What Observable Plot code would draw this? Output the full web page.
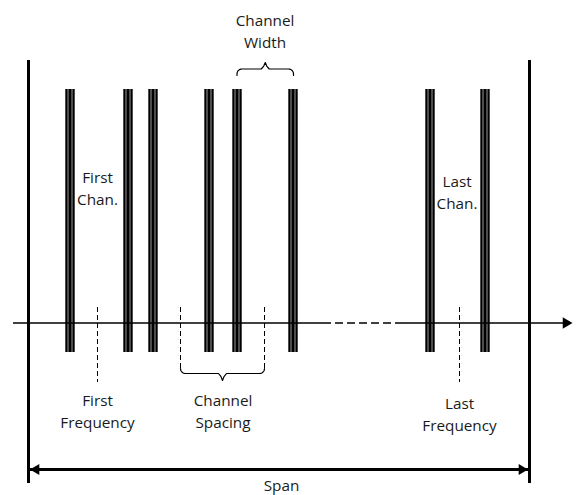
<!DOCTYPE html>
<html>
<head>
<meta charset="utf-8">
<script src="https://cdn.jsdelivr.net/npm/d3@7"></script>
<script src="https://cdn.jsdelivr.net/npm/@observablehq/plot@0.6"></script>
<style>
  html, body { margin: 0; padding: 0; background: #fff; }
  svg { display: block; }
</style>
</head>
<body>
<div id="chart"></div>
<script>
// ---- data (diagram units: frequency axis left→right, vertical top→bottom) ----
const channels = [69.5, 127.5, 152.5, 208.5, 236.5, 292.5, 429.5, 484.5];
const spanEdges = [28, 529];
const frequencyMarks = [97, 459];          // First / Last Frequency
const spacingMarks = [180, 264];           // Channel Spacing bracket ends
const widthMarks = [236.5, 293];           // Channel Width bracket ends
const axisSolid = [{x1: 13, x2: 323}, {x1: 402, x2: 563}];
const axisDashed = [{x1: 323, x2: 402}];
const labels = ["Channel\nWidth", "First\nChan.", "Last\nChan.", "First\nFrequency", "Channel\nSpacing", "Last\nFrequency", "Span"];
const labelX = [264.5, 97, 456.5, 97, 222.5, 459, 281];
const labelBaseline = [26.5, 183.5, 187.5, 406.5, 406.5, 409.5, 492];

// ---- layout ----
const W = 579, H = 495;
const L = {
  spanTop: 60, spanBottom: 483, barTop: 89, barBottom: 352,
  axisY: 322.5, dashTop: 307, dashBottom: 382, spacingBottom: 368,
  spacingBraceY: 373, spacingApexY: 380,
  widthEndY: 75, widthBraceY: 68.5, widthApexY: 62,
  spanArrowY: 469, fontSize: 15.3, lineHeight: 1.45, textShift: -6
};

function brace(id, x1, x2, yEnd, yH, yA, r = 5) {
  const pts = [];
  const s = Math.sign(yEnd - yH);
  const xm = (x1 + x2) / 2;
  pts.push({id, x: x1, y: yEnd});
  for (let i = 0; i <= 8; i++) {
    const t = Math.PI - (Math.PI / 2) * (i / 8);
    pts.push({id, x: x1 + r + r * Math.cos(t), y: yH + s * r - s * r * Math.sin(t)});
  }
  const d = yA - yH;
  pts.push({id, x: xm - 4, y: yH});
  pts.push({id, x: xm - 1.5, y: yH + d * 0.45});
  pts.push({id, x: xm, y: yA});
  pts.push({id, x: xm + 1.5, y: yH + d * 0.45});
  pts.push({id, x: xm + 4, y: yH});
  for (let i = 0; i <= 8; i++) {
    const t = Math.PI / 2 - (Math.PI / 2) * (i / 8);
    pts.push({id, x: x2 - r + r * Math.cos(t), y: yH + s * r - s * r * Math.sin(t)});
  }
  pts.push({id, x: x2, y: yEnd});
  return pts;
}

const braces = [
  ...brace("width", widthMarks[0], widthMarks[1], L.widthEndY, L.widthBraceY, L.widthApexY),
  ...brace("spacing", spacingMarks[0], spacingMarks[1], L.spacingBottom, L.spacingBraceY, L.spacingApexY)
];

const labelData = labels.map((t, i) => ({text: t, x: labelX[i], y: labelBaseline[i] - 0.71 * L.fontSize + L.textShift}));

const chart = Plot.plot({
  width: W, height: H,
  margin: 0,
  style: {background: "#fff", fontFamily: "'Open Sans', 'DejaVu Sans', sans-serif"},
  x: {domain: [0, W], range: [0, W], axis: null},
  y: {domain: [0, H], range: [0, H], axis: null},
  marks: [
    // span edges
    Plot.ruleX(spanEdges, {x: d => d, y1: L.spanTop, y2: L.spanBottom, stroke: "#000", strokeWidth: 3}),
    // channel bars (triple lines)
    Plot.ruleX(channels, {x: d => d, y1: L.barTop, y2: L.barBottom, stroke: "#9a9a9a", strokeWidth: 10}),
    Plot.ruleX(channels, {x: d => d, dx: -3.5, y1: L.barTop, y2: L.barBottom, stroke: "#000", strokeWidth: 2}),
    Plot.ruleX(channels, {x: d => d, y1: L.barTop, y2: L.barBottom, stroke: "#000", strokeWidth: 3}),
    Plot.ruleX(channels, {x: d => d, dx: 3.5, y1: L.barTop, y2: L.barBottom, stroke: "#000", strokeWidth: 2}),
    // frequency axis
    Plot.ruleY(axisSolid, {y: () => L.axisY, x1: "x1", x2: "x2", stroke: "#000", strokeWidth: 1.3}),
    Plot.ruleY(axisDashed, {y: () => L.axisY, x1: "x1", x2: "x2", stroke: "#000", strokeWidth: 1.3, strokeDasharray: "8,4"}),
    Plot.dot([572], {x: d => d, y: () => L.axisY, dx: -6.5, symbol: "triangle", rotate: 90, r: 4.2, fill: "#000", stroke: "none"}),
    // dashed frequency markers
    Plot.ruleX(frequencyMarks, {x: d => d, y1: L.dashTop, y2: L.dashBottom, stroke: "#000", strokeWidth: 1, strokeDasharray: "5,3"}),
    Plot.ruleX(spacingMarks, {x: d => d, y1: L.dashTop, y2: L.spacingBottom, stroke: "#000", strokeWidth: 1, strokeDasharray: "5,3"}),
    // braces
    Plot.line(braces, {x: "x", y: "y", z: "id", stroke: "#000", strokeWidth: 1.2, curve: "linear"}),
    // span arrow
    Plot.ruleY([L.spanArrowY], {y: d => d, x1: spanEdges[0], x2: spanEdges[1], stroke: "#000", strokeWidth: 3}),
    Plot.dot([spanEdges[0] + 1.5], {x: d => d, y: () => L.spanArrowY, dx: 6.2, symbol: "triangle", rotate: -90, r: 4, fill: "#000", stroke: "none"}),
    Plot.dot([spanEdges[1] - 1.5], {x: d => d, y: () => L.spanArrowY, dx: -6.2, symbol: "triangle", rotate: 90, r: 4, fill: "#000", stroke: "none"}),
    // labels
    Plot.text(labelData, {x: "x", y: "y", text: "text", lineAnchor: "top", lineHeight: L.lineHeight, fontSize: L.fontSize, fill: "#1a1a1a", textAnchor: "middle"})
  ]
});
document.getElementById("chart").appendChild(chart);
</script>
</body>
</html>
